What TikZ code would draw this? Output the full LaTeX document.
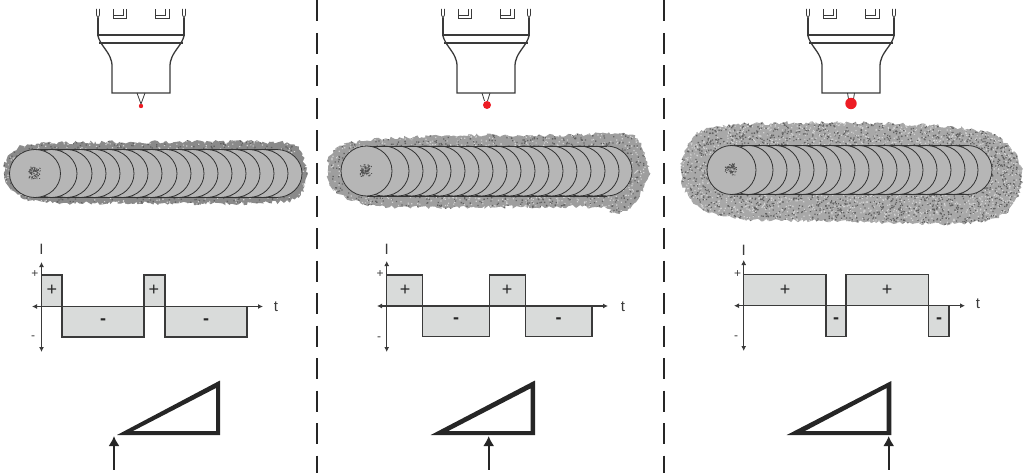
\documentclass[tikz,border=0pt]{standalone}
\usepackage{fontspec}
\setmainfont{Liberation Sans}
\usetikzlibrary{arrows.meta,decorations.pathmorphing}

\definecolor{inkgray}{HTML}{3A3A3A}
\definecolor{wavegray}{HTML}{D9DBDA}
\definecolor{beadgray}{HTML}{B6B6B6}
\definecolor{dropred}{HTML}{ED1C24}

\tikzset{
	headline/.style={line width=1.3pt,color=inkgray},
	clampline/.style={line width=0.8pt,color=inkgray},
	beadarc/.style={line width=0.8pt,draw=black!80,fill=beadgray},
	waveline/.style={line width=1.3pt,draw=inkgray,fill=wavegray},
	axisline/.style={line width=1.1pt,color=inkgray,{Latex[length=5pt,width=5pt]}-{Latex[length=5pt,width=5pt]}},
	feedline/.style={line width=1.7pt,color=black!85,-{Latex[length=10pt,width=11pt]}},
	panelcut/.style={line width=1.7pt,color=black!85,dash pattern=on 21pt off 11.5pt},
	bigsign/.style={font=\fontsize{18}{18}\selectfont,color=black!85,inner sep=0pt},
	bigminus/.style={font=\fontsize{18}{18}\selectfont\bfseries,color=black!85,inner sep=0pt},
	smallsign/.style={font=\fontsize{12}{12}\selectfont,color=inkgray,inner sep=0pt},
	axislabel/.style={font=\fontsize{15}{15}\selectfont,color=inkgray,inner sep=0pt},
	roughedge/.style={decorate,decoration={random steps,segment length=2.4pt,amplitude=1.8pt}}
}

% machine head, drawn about x=0
\newcommand{\headshape}{
	\draw[headline] (-43,18) -- (-43,35) -- (43,35) -- (43,18);
	\draw[headline] (-43,36) .. controls (-41,44) and (-34,50) .. (-31,57) .. controls (-29.5,60) and (-29,63) .. (-29,67) -- (-29,93) -- (29,93) -- (29,67) .. controls (29,63) and (29.5,60) .. (31,57) .. controls (34,50) and (41,44) .. (43,36);
	\draw[headline] (-42,43) -- (42,43);
	\draw[clampline] (-44.5,9) -- (-44.5,15) -- (-43,18) -- (-41.5,15) -- (-41.5,9);
	\draw[clampline] (44.5,9) -- (44.5,15) -- (43,18) -- (41.5,15) -- (41.5,9);
	\draw[clampline] (-28,9) -- (-28,18) -- (-15,18) -- (-15,9);
	\draw[clampline] (-18,9) -- (-18,15.5) -- (-28,15.5);
	\draw[clampline] (28,9) -- (28,18) -- (14,18) -- (14,9);
	\draw[clampline] (24,9) -- (24,15.5) -- (14,15.5);
}

% #1 base colour, #2 outline, #3-#6 box, #7 batches of specks
\newcommand{\fringe}[7]{
	\begin{scope}
		\clip[roughedge] plot [smooth cycle, tension=0.6] coordinates {#2};
		\fill[#1] (#3,#4) rectangle (#3+#5,#4+#6);
		\foreach \k in {1,...,#7} {
			\fill[black!62] \foreach \i in {1,...,100} { ({#3+#5*rnd},{#4+#6*rnd}) rectangle +(1.3,1.3) };
			\fill[black!18] \foreach \i in {1,...,100} { ({#3+#5*rnd},{#4+#6*rnd}) rectangle +(1.2,1.2) };
		}
	\end{scope}
}

% #1 centre y, #2 half height, #3 half width, #4 list of right edges, #5 last edge, #6 first centre x
\newcommand{\beadshape}[6]{
	\foreach \r in {#4} {
		\draw[beadarc] (\r-#3,#1) ellipse [x radius=#3,y radius=#2];
	}
	\draw[line width=0.9pt,color=black!80] (#6,#1-#2) -- (#5-#3,#1-#2);
	\draw[line width=0.9pt,color=black!80] (#6,#1+#2) -- (#5-#3,#1+#2);
	\draw[beadarc] (#6,#1) ellipse [x radius=#3,y radius=#2];
	\fill[black!68] \foreach \i in {1,...,90} { ({#6-1+6*sqrt(rnd)*cos(360*rnd)},{#1-1+6*sqrt(rnd)*sin(360*rnd)}) rectangle +(0.9,0.9) };
}

\begin{document}
\begin{tikzpicture}[x=1pt,y=-1pt]
	\pgfmathsetseed{7}
	\useasboundingbox (0,0) rectangle (1024,473);

	\draw[panelcut] (317,0.5) -- (317,473);
	\draw[panelcut] (664,0.5) -- (664,473);

	% left panel
	\begin{scope}[shift={(141,0)}]
		\headshape
		\draw[clampline] (-4,93) -- (0,104) -- (4,93);
	\end{scope}
	\fill[dropred] (141,106) circle (2.2);

	\fringe{black!46}{(4,173) (12,153) (40,144) (150,142) (262,142) (295,146) (306,172) (297,197) (260,203) (150,203) (45,202) (15,192)}{0}{138}{310}{70}{8}
	\beadshape{173.5}{24}{25.5}{302,288,274,260,246,232,218,204,191,177,162,148,134,120,106,92,77}{302}{35}

	\draw[waveline] (41.5,306.5) -- (41.5,275) -- (62,275) -- (62,337) -- (144,337) -- (144,275) -- (165,275) -- (165,337) -- (247,337) -- (247,306.5) -- cycle;
	\draw[axisline] (41.5,262) -- (41.5,352);
	\draw[axisline] (32,306.5) -- (263,306.5);
	\node[axislabel] (curA) at (41.5,249) {I};
	\node[axislabel] (timeA) at (276,307) {t};
	\node[smallsign] (topA) at (35,274) {+};
	\node[smallsign] (botA) at (33,338) {-};
	\node[bigsign] (plusAa) at (52,290.5) {+};
	\node[bigminus] (minusAa) at (103,321.5) {-};
	\node[bigsign] (plusAb) at (154,290.5) {+};
	\node[bigminus] (minusAb) at (206,321.5) {-};

	\fill[black!85,even odd rule] (117,435) -- (220,380.5) -- (220,435) -- cycle (133,431) -- (216,388) -- (216,431) -- cycle;
	\coordinate (feedAs) at (114,469.5);
	\coordinate (feedAe) at (114,436);
	\draw[feedline] (feedAs) -- (feedAe);

	% middle panel
	\begin{scope}[shift={(486,0)}]
		\headshape
		\draw[clampline] (-4,93) -- (-1.5,101);
		\draw[clampline] (4,93) -- (1.5,101);
	\end{scope}
	\fill[dropred] (487,105) circle (4);

	\fringe{black!38}{(328,172) (335,150) (365,141) (440,136) (560,135) (625,134) (642,148) (649,172) (640,195) (628,209) (612,213) (598,207) (500,207) (400,207) (360,203) (335,190)}{324}{130}{330}{88}{13}
	\beadshape{171}{25}{25.5}{632,619,605,591,577,563,549,535,521,507,493,479,465,451,437,423,409}{632}{366.5}

	\draw[waveline] (386.7,306) -- (386.7,275) -- (422.3,275) -- (422.3,336.7) -- (489.3,336.7) -- (489.3,275) -- (525.3,275) -- (525.3,336.7) -- (592,336.7) -- (592,306) -- cycle;
	\draw[axisline] (386.7,261) -- (386.7,352);
	\draw[axisline] (377,306) -- (608,306);
	\node[axislabel] (curB) at (386.7,249) {I};
	\node[axislabel] (timeB) at (623,307) {t};
	\node[smallsign] (topB) at (380,274.5) {+};
	\node[smallsign] (botB) at (379,339) {-};
	\node[bigsign] (plusBa) at (405,290.5) {+};
	\node[bigminus] (minusBa) at (456,321) {-};
	\node[bigsign] (plusBb) at (507,290) {+};
	\node[bigminus] (minusBb) at (558.5,321) {-};

	\fill[black!85,even odd rule] (430.7,435) -- (535,380.5) -- (535,435) -- cycle (448.3,431) -- (530.7,388.3) -- (530.7,431) -- cycle;
	\coordinate (feedBs) at (488.7,469.5);
	\coordinate (feedBe) at (488.7,436);
	\draw[feedline] (feedBs) -- (feedBe);

	% right panel
	\begin{scope}[shift={(851,0)}]
		\headshape
		\draw[clampline] (-3.5,93) -- (-2.5,99);
		\draw[clampline] (3.5,93) -- (2.5,99);
	\end{scope}
	\fill[dropred] (851,103.5) circle (5.7);

	\fringe{black!34}{(681,170) (688,145) (715,127) (800,123) (900,124) (975,130) (1005,143) (1022,170) (1016,198) (995,218) (940,224) (850,221) (760,220) (710,213) (688,195)}{678}{118}{346}{110}{28}
	\beadshape{170}{24.5}{24.5}{992,978,965,951,937,923,910,897,883,869,855,841,827,814,800,787,773}{992}{731.5}

	\draw[waveline] (743.7,305.7) -- (743.7,274.3) -- (826,274.3) -- (826,336.3) -- (846,336.3) -- (846,274.3) -- (928.7,274.3) -- (928.7,336.3) -- (949,336.3) -- (949,305.7) -- cycle;
	\draw[axisline] (743.7,260) -- (743.7,351);
	\draw[axisline] (734,305.7) -- (965,305.7);
	\node[axislabel] (curC) at (743.7,250) {I};
	\node[axislabel] (timeC) at (978,304) {t};
	\node[smallsign] (topC) at (737.5,274) {+};
	\node[smallsign] (botC) at (736,338) {-};
	\node[bigsign] (plusCa) at (785,290) {+};
	\node[bigminus] (minusCa) at (836,321) {-};
	\node[bigsign] (plusCb) at (887,290) {+};
	\node[bigminus] (minusCb) at (939,321) {-};

	\fill[black!85,even odd rule] (786.7,435) -- (891.3,381) -- (891.3,435) -- cycle (805,431) -- (886.7,388) -- (886.7,431) -- cycle;
	\coordinate (feedCs) at (888.7,469.5);
	\coordinate (feedCe) at (888.7,436);
	\draw[feedline] (feedCs) -- (feedCe);
\end{tikzpicture}
\end{document}
